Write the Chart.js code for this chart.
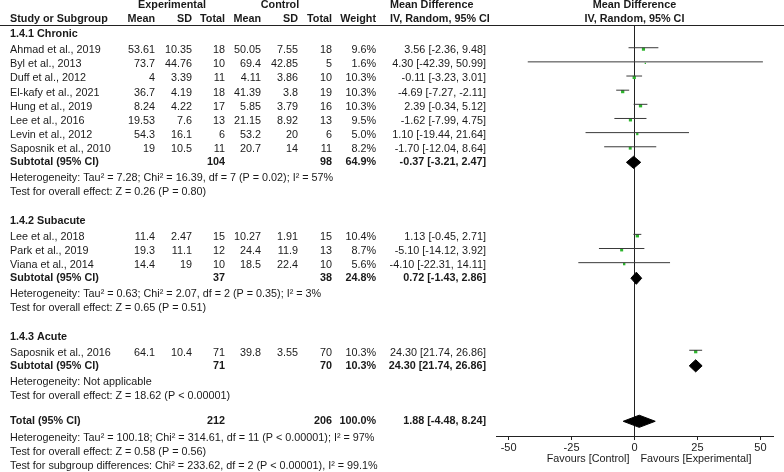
<!DOCTYPE html>
<html><head><meta charset="utf-8">
<script src="https://cdn.jsdelivr.net/npm/chart.js@4.4.0/dist/chart.umd.min.js"></script>
<style>html,body{margin:0;padding:0;background:#fff}#wrap{width:784px;height:472px}</style>
</head><body><div id="wrap"><canvas id="c" width="784" height="472"></canvas></div>
<script>
// ---------- data ----------
const groupNames = ['1.4.1 Chronic', '1.4.2 Subacute', '1.4.3 Acute'];
const studyNames = ['Ahmad et al., 2019', 'Byl et al., 2013', 'Duff et al., 2012', 'El-kafy et al., 2021', 'Hung et al., 2019', 'Lee et al., 2016', 'Levin et al., 2012', 'Saposnik et al., 2010', 'Lee et al., 2018', 'Park et al., 2019', 'Viana et al., 2014', 'Saposnik et al., 2016'];
const studyGroup = [0, 0, 0, 0, 0, 0, 0, 0, 1, 1, 1, 2];
const expMean = [53.61, 73.7, 4, 36.7, 8.24, 19.53, 54.3, 19, 11.4, 19.3, 14.4, 64.1];
const expSD = [10.35, 44.76, 3.39, 4.19, 4.22, 7.6, 16.1, 10.5, 2.47, 11.1, 19, 10.4];
const expN = [18, 10, 11, 18, 17, 13, 6, 11, 15, 12, 10, 71];
const ctlMean = [50.05, 69.4, 4.11, 41.39, 5.85, 21.15, 53.2, 20.7, 10.27, 24.4, 18.5, 39.8];
const ctlSD = [7.55, 42.85, 3.86, 3.8, 3.79, 8.92, 20, 14, 1.91, 11.9, 22.4, 3.55];
const ctlN = [18, 5, 10, 19, 16, 13, 6, 11, 15, 13, 10, 70];
const weights = [9.6, 1.6, 10.3, 10.3, 10.3, 9.5, 5.0, 8.2, 10.4, 8.7, 5.6, 10.3];
const md = [3.56, 4.30, -0.11, -4.69, 2.39, -1.62, 1.10, -1.70, 1.13, -5.10, -4.10, 24.30];
const mdLo = [-2.36, -42.39, -3.23, -7.27, -0.34, -7.99, -19.44, -12.04, -0.45, -14.12, -22.31, 21.74];
const mdHi = [9.48, 50.99, 3.01, -2.11, 5.12, 4.75, 21.64, 8.64, 2.71, 3.92, 14.11, 26.86];
const subExpN = [104, 37, 71];
const subCtlN = [98, 38, 70];
const subWeight = [64.9, 24.8, 10.3];
const subMD = [-0.37, 0.72, 24.30];
const subLo = [-3.21, -1.43, 21.74];
const subHi = [2.47, 2.86, 26.86];
const subHet = ['Heterogeneity: Tau² = 7.28; Chi² = 16.39, df = 7 (P = 0.02); I² = 57%', 'Heterogeneity: Tau² = 0.63; Chi² = 2.07, df = 2 (P = 0.35); I² = 3%', 'Heterogeneity: Not applicable'];
const subZ = ['Test for overall effect: Z = 0.26 (P = 0.80)', 'Test for overall effect: Z = 0.65 (P = 0.51)', 'Test for overall effect: Z = 18.62 (P < 0.00001)'];
const totalExpN = 212, totalCtlN = 206, totalWeight = 100.0;
const totalMD = 1.88, totalLo = -4.48, totalHi = 8.24;
const totalTexts = ['Heterogeneity: Tau² = 100.18; Chi² = 314.61, df = 11 (P < 0.00001); I² = 97%', 'Test for overall effect: Z = 0.58 (P = 0.56)', 'Test for subgroup differences: Chi² = 233.62, df = 2 (P < 0.00001), I² = 99.1%'];
const xTicks = [-50, -25, 0, 25, 50];

// ---------- layout (row positions in line units) ----------
const rows = [];
let pos = 0;
groupNames.forEach((g, gi) => {
  if (gi > 0) pos += 2.0;
  rows.push({ kind: 'group', gi, pos });
  let first = true;
  studyNames.forEach((s, si) => {
    if (studyGroup[si] !== gi) return;
    pos += first ? 1.14 : 1.0; first = false;
    rows.push({ kind: 'study', si, pos });
  });
  pos += 0.93; rows.push({ kind: 'sub', gi, pos });
  pos += 1.12; rows.push({ kind: 'text', text: subHet[gi], pos });
  pos += 1.0; rows.push({ kind: 'text', text: subZ[gi], pos });
});
pos += 1.8; rows.push({ kind: 'total', pos });
pos += 1.17; rows.push({ kind: 'text', text: totalTexts[0], pos });
pos += 1.0; rows.push({ kind: 'text', text: totalTexts[1], pos });
pos += 1.0; rows.push({ kind: 'text', text: totalTexts[2], pos });

const studyPos = [], subPos = [];
let totalPos = 0;
rows.forEach(r => {
  if (r.kind === 'study') studyPos[r.si] = r.pos;
  if (r.kind === 'sub') subPos[r.gi] = r.pos;
  if (r.kind === 'total') totalPos = r.pos;
});

// ---------- datasets ----------
const LINE_OFF = -0.17, SQ_OFF = -0.07;
const ciData = [];
studyNames.forEach((s, i) => {
  ciData.push({ x: mdLo[i], y: studyPos[i] + LINE_OFF }, { x: mdHi[i], y: studyPos[i] + LINE_OFF }, { x: null, y: null });
});
const sqData = studyNames.map((s, i) => ({ x: md[i], y: studyPos[i] + SQ_OFF }));
const DH = 0.43;
function diamond(m, lo, hi, p) {
  return [{ x: lo, y: p }, { x: m, y: p - DH }, { x: hi, y: p }, { x: m, y: p + DH }, { x: lo, y: p }];
}
const diamondSets = subMD.map((m, g) => diamond(m, subLo[g], subHi[g], subPos[g]));
diamondSets.push(diamond(totalMD, totalLo, totalHi, totalPos));

const datasets = [
  { data: ciData, borderColor: '#3a3a3a', borderWidth: 1, pointRadius: 0, spanGaps: false, fill: false, tension: 0 },
  { data: sqData, showLine: false, pointStyle: 'rect', backgroundColor: '#2db52d', borderWidth: 0,
    pointRadius: c => 0.72 * Math.sqrt(weights[c.dataIndex]) }
];
diamondSets.forEach(d => datasets.push({ data: d, borderColor: '#000', backgroundColor: '#000', borderWidth: 1, pointRadius: 0, fill: 'shape', tension: 0 }));

// ---------- text table ----------
const COL = { name: 10, eM: 155, eSD: 192, eN: 225, cM: 261, cSD: 298, cN: 332, w: 376, ci: 486, ciHead: 390 };
const fmtCI = (m, l, h) => `${m.toFixed(2)} [${l.toFixed(2)}, ${h.toFixed(2)}]`;
const tablePlugin = {
  id: 'table',
  afterDraw(chart) {
    const ctx = chart.ctx, ys = chart.scales.y, xs = chart.scales.x, ca = chart.chartArea;
    const F = b => (b ? 'bold ' : '') + '10.8px "Liberation Sans", Arial, sans-serif';
    const t = (s, px, py, align, bold) => { ctx.font = F(bold); ctx.textAlign = align; ctx.fillText(String(s), px, py); };
    ctx.save();
    ctx.fillStyle = '#1a1a1a';
    ctx.textBaseline = 'middle';
    const h1 = ca.top - 20, h2 = ca.top - 6;
    const z = xs.getPixelForValue(0);
    t('Experimental', 172, h1, 'center', true);
    t('Control', 280, h1, 'center', true);
    t('Mean Difference', COL.ciHead, h1, 'left', true);
    t('Mean Difference', z, h1, 'center', true);
    t('Study or Subgroup', COL.name, h2, 'left', true);
    t('Mean', COL.eM, h2, 'right', true);
    t('SD', COL.eSD, h2, 'right', true);
    t('Total', COL.eN, h2, 'right', true);
    t('Mean', COL.cM, h2, 'right', true);
    t('SD', COL.cSD, h2, 'right', true);
    t('Total', COL.cN, h2, 'right', true);
    t('Weight', COL.w, h2, 'right', true);
    t('IV, Random, 95% CI', COL.ciHead, h2, 'left', true);
    t('IV, Random, 95% CI', z, h2, 'center', true);
    ctx.strokeStyle = '#222'; ctx.lineWidth = 1;
    ctx.beginPath(); ctx.moveTo(0, Math.round(ca.top) + 0.5); ctx.lineTo(chart.width, Math.round(ca.top) + 0.5); ctx.stroke();
    rows.forEach(r => {
      const py = ys.getPixelForValue(r.pos);
      if (r.kind === 'group') t(groupNames[r.gi], COL.name, py, 'left', true);
      else if (r.kind === 'study') {
        const i = r.si;
        t(studyNames[i], COL.name, py, 'left');
        t(expMean[i], COL.eM, py, 'right'); t(expSD[i], COL.eSD, py, 'right'); t(expN[i], COL.eN, py, 'right');
        t(ctlMean[i], COL.cM, py, 'right'); t(ctlSD[i], COL.cSD, py, 'right'); t(ctlN[i], COL.cN, py, 'right');
        t(weights[i].toFixed(1) + '%', COL.w, py, 'right');
        t(fmtCI(md[i], mdLo[i], mdHi[i]), COL.ci, py, 'right');
      } else if (r.kind === 'sub') {
        const g = r.gi;
        t('Subtotal (95% CI)', COL.name, py, 'left', true);
        t(subExpN[g], COL.eN, py, 'right', true);
        t(subCtlN[g], COL.cN, py, 'right', true);
        t(subWeight[g].toFixed(1) + '%', COL.w, py, 'right', true);
        t(fmtCI(subMD[g], subLo[g], subHi[g]), COL.ci, py, 'right', true);
      } else if (r.kind === 'total') {
        t('Total (95% CI)', COL.name, py, 'left', true);
        t(totalExpN, COL.eN, py, 'right', true);
        t(totalCtlN, COL.cN, py, 'right', true);
        t(totalWeight.toFixed(1) + '%', COL.w, py, 'right', true);
        t(fmtCI(totalMD, totalLo, totalHi), COL.ci, py, 'right', true);
      } else t(r.text, COL.name, py, 'left');
    });
    t('Favours [Control]', z - 5, ca.bottom + 23, 'right');
    t('Favours [Experimental]', z + 6, ca.bottom + 23, 'left');
    ctx.restore();
  }
};

new Chart(document.getElementById('c'), {
  type: 'line',
  data: { datasets },
  plugins: [tablePlugin],
  options: {
    responsive: false,
    animation: false,
    layout: { padding: { left: 496, right: 11, top: 25, bottom: 6 } },
    plugins: { legend: { display: false }, tooltip: { enabled: false } },
    scales: {
      x: {
        type: 'linear', min: -55, max: 55,
        afterBuildTicks: s => { s.ticks = xTicks.map(v => ({ value: v })); },
        afterFit: s => { s.height = 30; },
        grid: {
          drawOnChartArea: true,
          color: c => (c.tick && c.tick.value === 0) ? '#222' : 'rgba(0,0,0,0)',
          tickColor: '#222', tickLength: 4, lineWidth: 1
        },
        border: { display: true, color: '#222', width: 1 },
        ticks: { color: '#1a1a1a', padding: 1, autoSkip: false, maxRotation: 0, font: { family: '"Liberation Sans", Arial, sans-serif', size: 11 } }
      },
      y: { type: 'linear', display: false, reverse: true, min: -0.636, max: 28.41 }
    }
  }
});
</script></body></html>
